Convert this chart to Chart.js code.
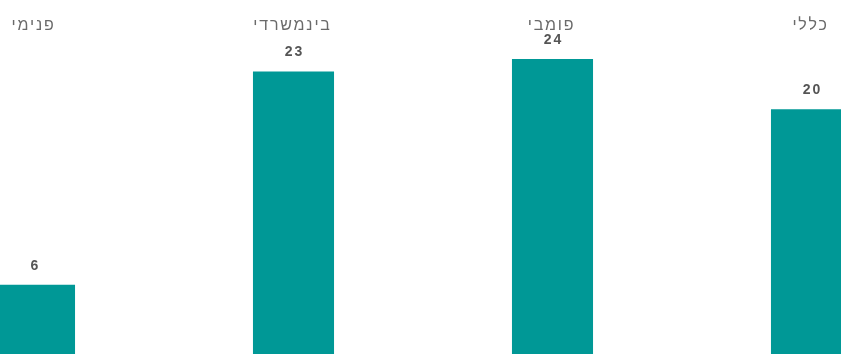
<!DOCTYPE html>
<html>
<head>
<meta charset="utf-8">
<script src="https://cdn.jsdelivr.net/npm/chart.js@4.4.1/dist/chart.umd.min.js"></script>
<style>
  html, body { margin: 0; padding: 0; background: #ffffff; overflow: hidden; width: 841px; height: 354px; }
  #wrap { position: absolute; left: -95px; top: 0; width: 1036px; height: 360px; }
</style>
</head>
<body>
<div id="wrap"><canvas id="c"></canvas></div>
<script>
// Tender types and number of tenders per type
const categories = ['פנימי', 'בינמשרדי', 'פומבי', 'כללי'];
const values = [6, 23, 24, 20];

const barColor = '#009896';
const nameColor = '#6a6a6a';
const valueColor = '#555555';
const fontFamily = '"Liberation Sans", Arial, sans-serif';

// Draws the category names along the top and the value above each bar
const labelsPlugin = {
  id: 'barLabels',
  afterDatasetsDraw(chart) {
    const ctx = chart.ctx;
    const meta = chart.getDatasetMeta(0);
    ctx.save();
    ctx.textAlign = 'center';
    ctx.textBaseline = 'middle';
    meta.data.forEach((bar, i) => {
      ctx.fillStyle = nameColor;
      ctx.font = '16px ' + fontFamily;
      ctx.letterSpacing = '1.8px';
      ctx.direction = 'rtl';
      ctx.fillText(categories[i], bar.x - 1, 26);
      ctx.direction = 'ltr';
      ctx.fillStyle = valueColor;
      ctx.font = 'bold 14px ' + fontFamily;
      ctx.letterSpacing = '2px';
      ctx.fillText(String(values[i]), bar.x + 1, bar.y - 19);
    });
    ctx.restore();
  }
};

new Chart(document.getElementById('c'), {
  type: 'bar',
  data: {
    labels: categories,
    datasets: [{
      data: values,
      backgroundColor: barColor,
      borderWidth: 0,
      barPercentage: 0.313,
      categoryPercentage: 1.0
    }]
  },
  options: {
    responsive: true,
    maintainAspectRatio: false,
    animation: false,
    layout: { padding: 0 },
    plugins: { legend: { display: false }, tooltip: { enabled: false } },
    scales: {
      x: { display: false, offset: true },
      y: { display: false, min: 0, max: 28.7 }
    }
  },
  plugins: [labelsPlugin]
});
</script>
</body>
</html>
